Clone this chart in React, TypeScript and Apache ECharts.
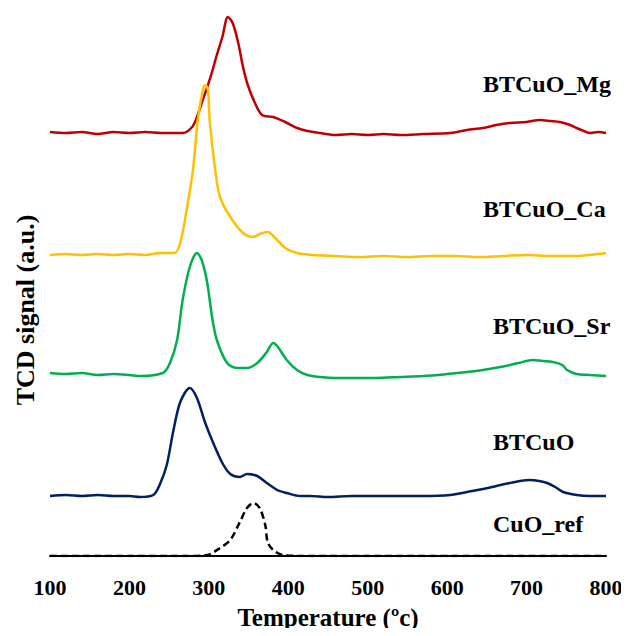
import React, { useEffect, useRef } from "react";
import * as echarts from "echarts";

// Temperature (°C) and TCD signal (a.u., stacked offsets) for each sample
const mgT = [100, 120, 140, 160, 180, 200, 220, 240, 251, 267, 279, 285, 291, 298, 304, 310, 317, 324, 330, 337, 343, 349, 358, 367, 381, 396, 411, 424, 440, 460, 480, 500, 520, 541, 570, 604, 625, 645, 662, 679, 700, 717, 730, 742, 755, 763, 772, 780, 790, 800];
const mgV = [424, 423, 424, 422, 424, 423, 424, 423, 423, 423, 429, 439, 453, 469, 484, 501, 519, 539, 533, 513, 489, 471, 453, 441, 439, 434, 428, 425, 423, 421, 422, 421, 422, 421, 422, 423, 426, 428, 431, 433, 434, 436, 435, 434, 431, 428, 425, 423, 424, 423];

const caT = [100, 120, 140, 160, 180, 200, 220, 238, 257, 264, 272, 280, 286, 293, 296, 299, 301, 308, 314, 327, 343, 356, 364, 374, 386, 396, 411, 430, 460, 490, 520, 550, 580, 610, 640, 670, 700, 730, 760, 790, 800];
const caV = [301, 302, 301, 302, 301, 302, 301, 303, 303, 313, 346, 386, 436, 468, 471, 465, 436, 386, 359, 339, 323, 319, 322, 324, 316, 308, 303, 301, 300, 299, 300, 299, 300, 300, 299, 300, 301, 300, 300, 302, 303];

const srT = [100, 120, 140, 160, 180, 200, 213, 242, 251, 260, 267, 276, 285, 291, 298, 304, 310, 323, 335, 348, 361, 373, 381, 387, 398, 411, 424, 440, 460, 480, 510, 541, 570, 600, 625, 645, 667, 690, 708, 720, 733, 745, 751, 763, 780, 800];
const srV = [183, 182, 183, 181, 182, 181, 180, 183, 193, 216, 256, 289, 303, 296, 273, 239, 216, 193, 188, 188, 193, 204, 213, 209, 196, 186, 181, 179, 178, 178, 178, 179, 180, 182, 184, 186, 189, 193, 196, 195, 194, 191, 186, 182, 181, 180];

const cuT = [100, 120, 140, 160, 180, 200, 213, 230, 238, 247, 255, 264, 276, 285, 295, 305, 317, 327, 339, 348, 361, 373, 386, 398, 415, 427, 450, 480, 510, 541, 570, 604, 625, 645, 662, 679, 692, 704, 716, 726, 736, 746, 763, 780, 800];
const cuV = [60, 61, 60, 61, 60, 60, 59, 61, 71, 91, 124, 154, 168, 158, 134, 114, 93, 82, 79, 82, 80, 73, 66, 63, 60, 60, 59, 60, 60, 60, 60, 61, 64, 67, 70, 73, 75, 76, 75, 73, 69, 64, 61, 60, 60];

const refT = [100, 200, 270, 298, 314, 327, 339, 348, 356, 364, 371, 374, 381, 393, 420, 800];
const refV = [0, 0, 0, 1, 8, 16, 34, 48, 53, 48, 31, 14, 6, 1, 0, 0];

const xTicks = [100, 200, 300, 400, 500, 600, 700, 800];

const seriesNames = ["BTCuO_Mg", "BTCuO_Ca", "BTCuO_Sr", "BTCuO", "CuO_ref"];
const seriesColors = ["#C00000", "#FFC000", "#00B050", "#002060", "#000000"];

const FONT = "'Liberation Serif', 'Times New Roman', serif";

function zip(t: number[], v: number[]) {
  return t.map((x, i) => [x, v[i]]);
}

export default function App() {
  const ref = useRef<HTMLDivElement>(null);
  useEffect(() => {
    if (!ref.current) return;
    const chart = echarts.init(ref.current, null, { renderer: "svg" });
    const datasets = [zip(mgT, mgV), zip(caT, caV), zip(srT, srV), zip(cuT, cuV), zip(refT, refV)];
    const labelPos = [
      [483, 84],
      [483, 209],
      [493, 326],
      [493, 442],
      [493, 524],
    ];
    chart.setOption({
      animation: false,
      backgroundColor: "#ffffff",
      grid: { left: 50, right: 23, top: 10, bottom: 80, containLabel: false },
      xAxis: {
        type: "value",
        min: 100,
        max: 800,
        interval: 100,
        name: "Temperature (\u00bac)",
        nameLocation: "middle",
        nameGap: 49,
        nameTextStyle: { fontFamily: FONT, fontWeight: "bold", fontSize: 25, color: "#000" },
        axisLine: { show: true, onZero: false, lineStyle: { color: "#000", width: 2 } },
        axisTick: { show: false },
        splitLine: { show: false },
        axisLabel: {
          margin: 20,
          fontFamily: FONT,
          fontWeight: "bold",
          fontSize: 22,
          color: "#000",
          formatter: (v: number) => (xTicks.includes(v) ? String(v) : ""),
        },
      },
      yAxis: {
        type: "value",
        min: 0,
        max: 546,
        show: true,
        axisLine: { show: false },
        axisTick: { show: false },
        axisLabel: { show: false },
        splitLine: { show: false },
      },
      graphic: [
        {
          type: "text",
          x: 25,
          y: 310,
          rotation: Math.PI / 2,
          style: {
            text: "TCD signal (a.u.)",
            fontFamily: FONT,
            fontWeight: "bold",
            fontSize: 26,
            fill: "#000",
            align: "center",
            verticalAlign: "middle",
          },
        },
        ...seriesNames.map((n, i) => ({
          type: "text",
          x: labelPos[i][0],
          y: labelPos[i][1],
          style: {
            text: n,
            fontFamily: FONT,
            fontWeight: "bold",
            fontSize: 24,
            fill: "#000",
            align: "left",
            verticalAlign: "middle",
          },
        })),
      ],
      series: seriesNames.map((n, i) => ({
        name: n,
        type: "line",
        data: datasets[i],
        smooth: 0.3,
        showSymbol: false,
        symbol: "none",
        lineStyle: {
          color: seriesColors[i],
          width: 2.5,
          type: i === 4 ? [7, 4] : "solid",
        },
        z: 2 + i,
      })),
    });
    return () => chart.dispose();
  }, []);
  return <div ref={ref} style={{ width: 629, height: 636, margin: -8 }} />;
}
